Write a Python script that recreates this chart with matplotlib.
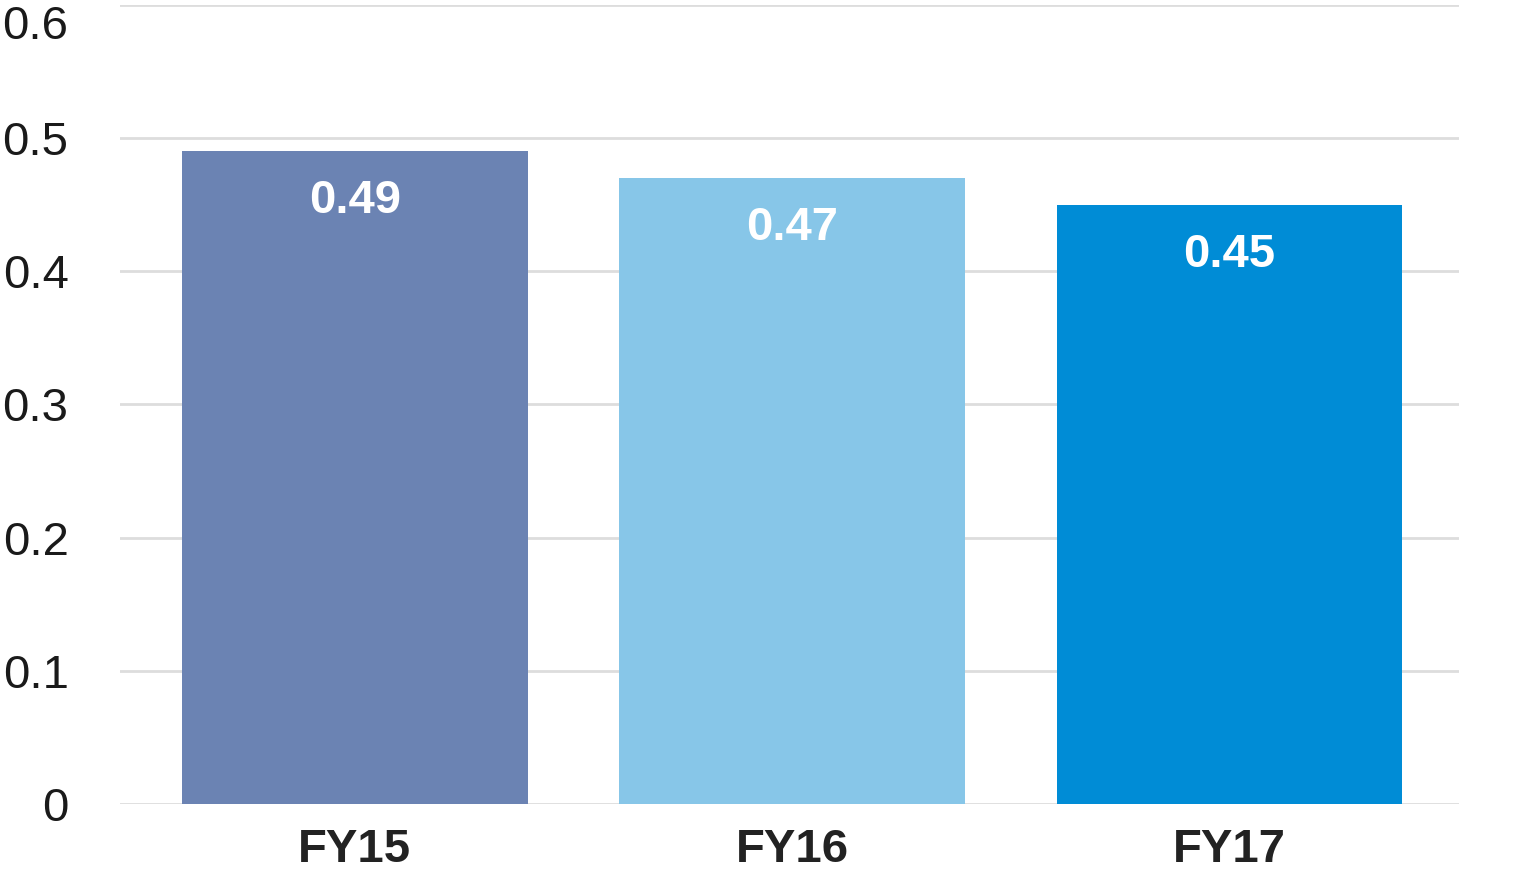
import matplotlib
matplotlib.use('Agg')
import matplotlib.pyplot as plt

years = ['FY15', 'FY16', 'FY17']
values = [0.49, 0.47, 0.45]
bar_colors = ['#6b83b3', '#87c6e8', '#008cd6']
y_ticks = [0, 0.1, 0.2, 0.3, 0.4, 0.5, 0.6]
y_tick_labels = ['0', '0.1', '0.2', '0.3', '0.4', '0.5', '0.6']

plt.rcParams['font.family'] = ['Liberation Sans', 'DejaVu Sans']

fig = plt.figure(figsize=(15.34, 8.90), dpi=100)
ax = fig.add_axes([120 / 1534, 86 / 890, (1459 - 120) / 1534, (804 - 5) / 890])

x = list(range(len(years)))
bars = ax.bar(x, values, width=0.79, color=bar_colors, zorder=2)

# value labels inside the top of each bar
for xi, v in zip(x, values):
    ax.annotate(f'{v:.2f}', xy=(xi, v), xytext=(0, -62), textcoords='offset pixels',
                ha='center', va='baseline', color='white', fontsize=34, fontweight='bold')

ax.set_xlim(-0.537, 2.525)
ax.set_ylim(0, 0.6)
ax.set_yticks(y_ticks)
ax.set_yticklabels(y_tick_labels)
ax.set_xticks(x)
ax.set_xticklabels(years, fontweight='bold')

ax.tick_params(axis='y', length=0, pad=37, labelsize=34, labelcolor='#1a1a1a')
ax.tick_params(axis='x', length=0, pad=17, labelsize=34, labelcolor='#222222')
# top label would be clipped, so hang it from the gridline
ax.get_yticklabels()[-1].set_va('top')

ax.grid(axis='y', color='#dddddd', linewidth=2, zorder=0)
ax.set_axisbelow(True)
for s in ax.spines.values():
    s.set_visible(False)

fig.savefig('out.png', dpi=100)
